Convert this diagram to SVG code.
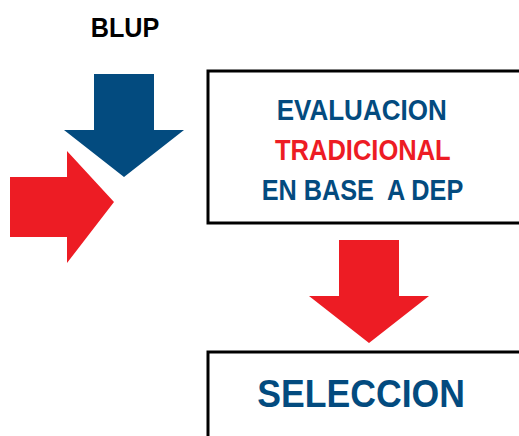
<svg xmlns="http://www.w3.org/2000/svg" width="519" height="436" viewBox="0 0 519 436">
<style>
.t{font-family:"Liberation Sans",Arial,sans-serif;font-weight:bold;text-anchor:start}
.blue{fill:#034b7f}
.red{fill:#ed1c24}
.box{fill:#fff;stroke:#000;stroke-width:3}
</style>
<rect width="519" height="436" fill="#fff"/>
<g id="blup">
<text class="t" x="90.7" y="36.7" font-size="27.5" textLength="68.6" lengthAdjust="spacingAndGlyphs" fill="#000">BLUP</text>
</g>
<g id="connectors">
<polygon class="blue" points="94,74 154,74 154,130 184,130 124,177 64,130 94,130"/>
<polygon class="red" points="10,177 67,177 67,151 114,202 67,263 67,237 10,237"/>
<polygon class="red" points="339,240 399,240 399,296 429,296 369,343 309,296 339,296"/>
</g>
<g id="evaluacion">
<rect class="box" x="208" y="71" width="320" height="152"/>
<text class="t blue" x="276.7" y="120" font-size="29" textLength="170" lengthAdjust="spacingAndGlyphs">EVALUACION</text>
<text class="t red" x="275" y="160" font-size="29" textLength="175.7" lengthAdjust="spacingAndGlyphs">TRADICIONAL</text>
<text class="t blue" x="261.7" y="200" font-size="29" textLength="201.6" lengthAdjust="spacingAndGlyphs" xml:space="preserve" style="white-space:pre">EN BASE  A DEP</text>
</g>
<g id="seleccion">
<rect class="box" x="208" y="352" width="320" height="100"/>
<text class="t blue" x="257.3" y="407.3" font-size="38" textLength="207.7" lengthAdjust="spacingAndGlyphs">SELECCION</text>
</g>
</svg>
